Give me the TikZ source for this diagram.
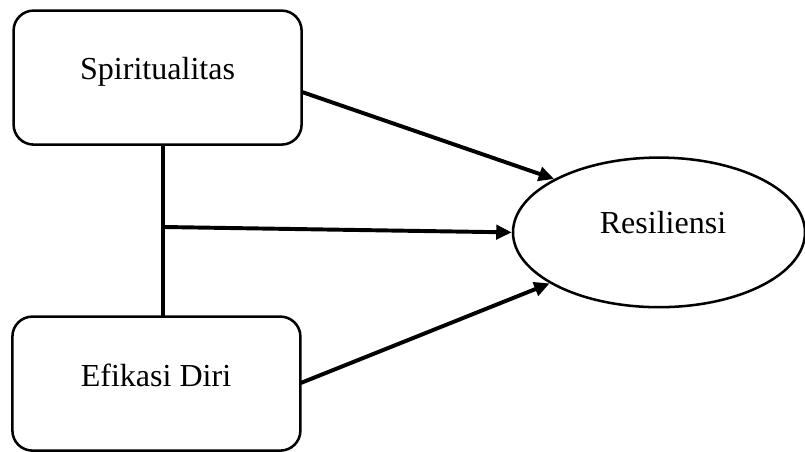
\documentclass[tikz,border=0pt]{standalone}
\usepackage{fontspec}
\setmainfont{Liberation Serif}
\usetikzlibrary{shapes.geometric,arrows.meta}

\begin{document}
\begin{tikzpicture}[
	kotak/.style={draw,line width=1.8pt,rounded corners=0.5cm,minimum width=7.2cm,minimum height=3.35cm,inner sep=0pt},
	lonjong/.style={draw,line width=1.8pt,ellipse,minimum width=7.3cm,minimum height=3.74cm,inner sep=0pt},
	teks/.style={anchor=base,inner sep=0pt,font=\fontsize{22.8}{27}\selectfont},
	panah/.style={line width=2.8pt,-{Triangle[length=11pt,width=10pt]}},
	garis/.style={line width=2.6pt}
	]

	\useasboundingbox (0,0) rectangle (20.125,11.3);

	% kotak dan lonjong
	\node[kotak] (spir) at (3.94,9.36) {};
	\node[kotak] (efi) at (3.91,1.71) {};
	\node[lonjong] (res) at (16.475,5.49) {};

	\node[teks] (spirteks) at (3.94,9.3) {Spiritualitas};
	\node[teks] (efiteks) at (3.9,1.625) {Efikasi Diri};
	\node[teks] (resteks) at (16.575,5.45) {Resiliensi};

	% garis penghubung
	\coordinate (atas) at (4.075,7.68);
	\coordinate (bawah) at (4.075,3.38);
	\coordinate (tengah) at (4.075,5.625);
	\draw[garis] (atas) -- (bawah);

	\coordinate (spirkanan) at (7.55,9.0);
	\coordinate (efikanan) at (7.52,1.725);

	\draw[panah] (spirkanan) -- (res.153);
	\draw[panah] (tengah) -- (res.west);
	\draw[panah] (efikanan) -- (res.205);

\end{tikzpicture}
\end{document}
